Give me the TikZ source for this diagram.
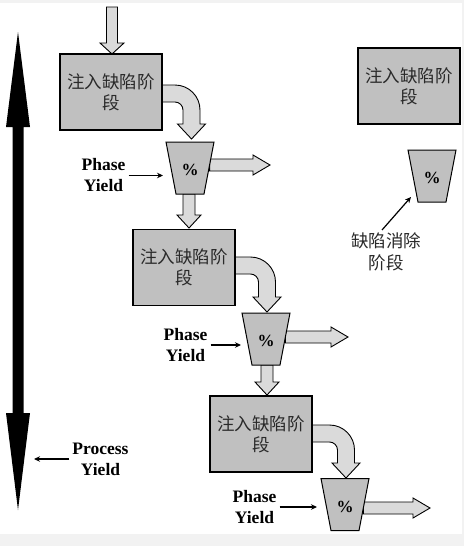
\documentclass[tikz,border=0pt]{standalone}
\usepackage{fontspec}
\setmainfont{Liberation Serif}
\newfontfamily\cjk{Noto Sans CJK SC}
\usetikzlibrary{arrows.meta}
\definecolor{bgstrip}{HTML}{F2F2F2}
\definecolor{boxgray}{HTML}{C0C0C0}
\definecolor{arrowgray}{HTML}{DADADA}
\definecolor{cjktext}{HTML}{2A2A2A}
\tikzset{
  stagebox/.style={draw=black, line width=1.1pt, fill=boxgray, minimum width=102pt, minimum height=76pt, inner sep=0pt,
    align=center, font=\cjk\fontsize{17.5}{21}\selectfont, text=cjktext},
  funnel/.style={draw=black, line width=1pt, fill=boxgray},
  pct/.style={font=\bfseries\fontsize{17}{18}\selectfont, inner sep=0pt},
  blockarrow/.style={draw=black, line width=0.9pt, fill=arrowgray, line join=miter},
  yieldlabel/.style={align=center, font=\bfseries\fontsize{17.5}{21}\selectfont, inner sep=3pt},
  cjklabel/.style={align=center, font=\cjk\fontsize{17.5}{22}\selectfont, text=cjktext, inner sep=2pt},
  thinarrow/.style={draw=black, line width=1.2pt, -{Stealth[length=6pt,width=5.5pt]}}
}
% straight block arrow downwards: x, y start, y tip, shaft half, head half, head length
\newcommand\blkdown[6]{%
  \draw[blockarrow] (#1-#4,#2) -- (#1-#4,#3-#6) -- (#1-#5,#3-#6) -- (#1,#3) -- (#1+#5,#3-#6) -- (#1+#4,#3-#6) -- (#1+#4,#2) -- cycle;}
% straight block arrow to the right: y, x start, x tip, shaft half, head half, head length
\newcommand\blkright[6]{%
  \draw[blockarrow] (#2,#1-#4) -- (#3-#6,#1-#4) -- (#3-#6,#1-#5) -- (#3,#1) -- (#3-#6,#1+#5) -- (#3-#6,#1+#4) -- (#2,#1+#4) -- cycle;}
% bent block arrow: box right x, outer top y, vertical centre line x, tip y
\newcommand\blkbend[4]{%
  \pgfmathsetmacro\bcx{#3-16.5}%
  \pgfmathsetmacro\bcy{#2+25}%
  \pgfmathsetmacro\bhb{#4-15}%
  \draw[blockarrow] (#1,#2) -- (\bcx,#2) .. controls (\bcx+13.8,#2) and (\bcx+25,\bcy-13.8) .. (\bcx+25,\bcy)
    -- (\bcx+25,\bhb) -- (#3+14,\bhb) -- (#3,#4) -- (#3-14,\bhb) -- (\bcx+8,\bhb) -- (\bcx+8,\bcy)
    .. controls (\bcx+8,\bcy-4.4) and (\bcx+4.4,\bcy-8) .. (\bcx,\bcy-8) -- (#1,\bcy-8) -- cycle;}
% funnel (trapezoid) centred at x,y
\newcommand\funnelat[2]{%
  \draw[funnel] (#1-24,#2-26) -- (#1+24,#2-26) -- (#1+14,#2+26) -- (#1-14,#2+26) -- cycle;}
\begin{document}
\begin{tikzpicture}[x=1pt,y=-1pt]
\useasboundingbox (0,0) rectangle (464,546);
\fill[bgstrip] (0,0) rectangle (464,546);
\fill[white] (0,3) rectangle (462,534);

% process yield double arrow
\fill[black] (18,32) -- (30,127) -- (23.5,127) -- (23.5,413) -- (30,413) -- (18,510) -- (6,413) -- (12.5,413) -- (12.5,127) -- (6,127) -- cycle;

% block arrows
\blkdown{112}{7}{54}{5.5}{12}{11}
\blkbend{162}{85}{191.5}{139}
\blkright{165}{209.6}{270}{6}{10}{17}
\blkdown{189}{194}{228}{6}{12}{13}
\blkbend{235}{257}{267}{312}
\blkright{337}{285.4}{348}{6}{10}{17}
\blkdown{267}{365}{395}{6}{12}{13}
\blkbend{312}{425}{346}{478}
\blkright{508}{363.3}{430}{6}{10}{17}

% stage boxes
\node[stagebox] (b1) at (111,92) {注入缺陷阶\\段};
\node[stagebox] (b2) at (184,267.5) {注入缺陷阶\\段};
\node[stagebox] (b3) at (261,434) {注入缺陷阶\\段};
\node[stagebox] (b4) at (409,86) {注入缺陷阶\\段};

% funnels
\funnelat{190}{168}
\node[pct] (t1) at (190,170) {\%};
\funnelat{266}{339}
\node[pct] (t2) at (266,341) {\%};
\funnelat{345}{504.5}
\node[pct] (t3) at (345,506.5) {\%};
\funnelat{432}{176}
\node[pct] (t4) at (432,178) {\%};

% labels
\node[yieldlabel] (py1) at (103.5,175.5) {Phase\\Yield};
\coordinate (py1e) at (163,175.5);
\draw[thinarrow] (py1.east) -- (py1e);
\node[yieldlabel] (py2) at (185.5,345) {Phase\\Yield};
\coordinate (py2e) at (241,345);
\draw[thinarrow] (py2.east) -- (py2e);
\node[yieldlabel] (py3) at (254.5,507) {Phase\\Yield};
\coordinate (py3e) at (317,507);
\draw[thinarrow] (py3.east) -- (py3e);
\node[yieldlabel] (pry) at (100.5,459) {Process\\Yield};
\coordinate (prye) at (34,459);
\draw[thinarrow] (pry.west) -- (prye);
\node[cjklabel] (elim) at (386,251.5) {缺陷消除\\阶段};
\coordinate (elimS) at (382,230);
\coordinate (elimE) at (411,197);
\draw[thinarrow] (elimS) -- (elimE);
\end{tikzpicture}
\end{document}
